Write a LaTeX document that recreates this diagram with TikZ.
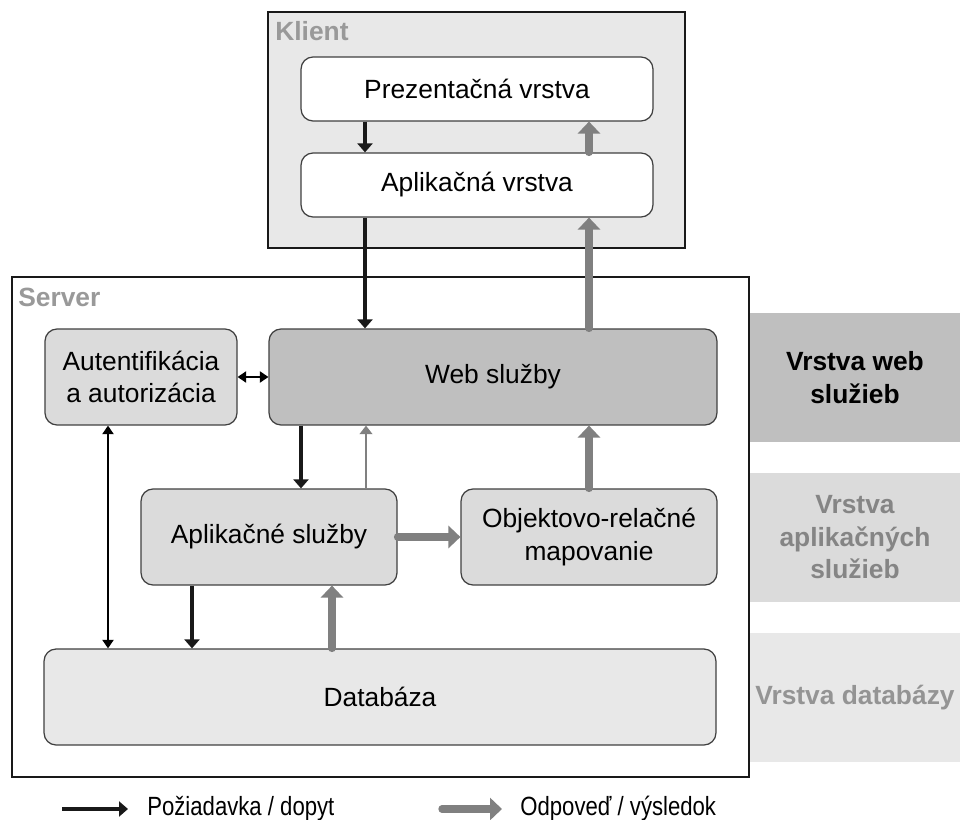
\documentclass[tikz,border=0pt]{standalone}
\usepackage{fontspec}
\setmainfont{Liberation Sans}
\usetikzlibrary{arrows.meta}
\usetikzlibrary{calc}

\begin{document}
\begin{tikzpicture}[x=0.02cm,y=-0.02cm,font=\fontsize{15}{18.5}\selectfont,
  zone/.style={shape=rectangle,draw=black!90,inner sep=0pt},
  zonelabel/.style={anchor=base west,inner sep=0pt,text=black!40,font=\fontsize{15}{18.5}\selectfont\bfseries},
  tier/.style={shape=rectangle,draw=black!75,line width=0.7pt,rounded corners=0.24cm,inner sep=0pt,align=center,minimum height=1.92cm},
  band/.style={shape=rectangle,inner sep=0pt,minimum width=4.2cm,minimum height=2.58cm,align=center,font=\fontsize{15}{18.5}\selectfont\bfseries},
  req/.style={draw=black!90,line width=2.3pt,-{Triangle[length=0.18cm,width=0.3cm]}},
  reqboth/.style={draw=black,line width=1.1pt,{Triangle[length=0.17cm,width=0.22cm]}-{Triangle[length=0.17cm,width=0.22cm]}},
  resp/.style={draw=black!50,line width=4.2pt,line cap=round,-{Triangle[length=0.24cm,width=0.44cm]}},
  respthin/.style={draw=black!50,line width=1.6pt,-{Triangle[length=0.17cm,width=0.25cm]}}]
\useasboundingbox (0,0) rectangle (960,820);
\draw (476.5,130) node (klient) [zone,fill=black!9,line width=1pt,minimum width=8.34cm,minimum height=4.72cm] {};
\draw (275,41) node [zonelabel] {Klient};
\draw (477,89) node (pres) [tier,fill=white,minimum width=7.04cm,minimum height=1.28cm] {Prezentačná vrstva};
\draw (477,185) node (app) [tier,fill=white,minimum width=7.04cm,minimum height=1.28cm] {Aplikačná vrstva};
\draw (380.5,527) node (server) [zone,fill=white,line width=1.5pt,minimum width=14.74cm,minimum height=10cm] {};
\draw (18,307) node [zonelabel] {Server};
\draw (141,377) node (auth) [tier,fill=black!14,minimum width=3.84cm] {Autentifikácia\\a autorizácia};
\draw (493,377) node (web) [tier,fill=black!25,minimum width=8.96cm] {Web služby};
\draw (269,537) node (appsvc) [tier,fill=black!14,minimum width=5.12cm] {Aplikačné služby};
\draw (589,537) node (orm) [tier,fill=black!14,minimum width=5.12cm] {Objektovo-relačné\\mapovanie};
\draw (380,697) node (db) [tier,fill=black!9,minimum width=13.44cm] {Databáza};
\draw (855,377.5) node (bweb) [band,fill=black!25] {Vrstva web\\služieb};
\draw (855,537.5) node (bapp) [band,fill=black!14,text=black!48] {Vrstva\\aplikačných\\služieb};
\draw (855,697.5) node (bdb) [band,fill=black!9,text=black!42] {Vrstva databázy};
\coordinate (c1) at (365,0);
\coordinate (c2) at (589,0);
\coordinate (c3) at (301,0);
\coordinate (c4) at (366,0);
\coordinate (c5) at (108,0);
\coordinate (c6) at (192,0);
\coordinate (c7) at (332,0);
\draw[req] (pres.south -| c1) -- (app.north -| c1);
\draw[resp] (app.north -| c2) -- (pres.south -| c2);
\draw[req] (app.south -| c1) -- (web.north -| c1);
\draw[resp] (web.north -| c2) -- (app.south -| c2);
\draw[reqboth] (auth.east) -- (web.west |- auth.east);
\draw[req] (web.south -| c3) -- (appsvc.north -| c3);
\draw[respthin] (appsvc.north -| c4) -- (web.south -| c4);
\draw[resp] (orm.north -| c2) -- (web.south -| c2);
\draw[resp] (appsvc.east) -- (orm.west);
\draw[reqboth] (auth.south -| c5) -- (db.north -| c5);
\draw[req] (appsvc.south -| c6) -- (db.north -| c6);
\draw[resp] (db.north -| c7) -- (appsvc.south -| c7);
\coordinate (reqa) at (62,809);
\coordinate (reqb) at (128,809);
\draw[req] (reqa) -- (reqb);
\draw (147,809) node (reqlabel) [anchor=west,inner sep=0pt] {\scalebox{0.84}[1]{Požiadavka / dopyt}};
\coordinate (respa) at (442,809);
\coordinate (respb) at (502,809);
\draw[resp] (respa) -- (respb);
\draw (520,809) node (resplabel) [anchor=west,inner sep=0pt] {\scalebox{0.84}[1]{Odpoveď / výsledok}};
\end{tikzpicture}
\end{document}
